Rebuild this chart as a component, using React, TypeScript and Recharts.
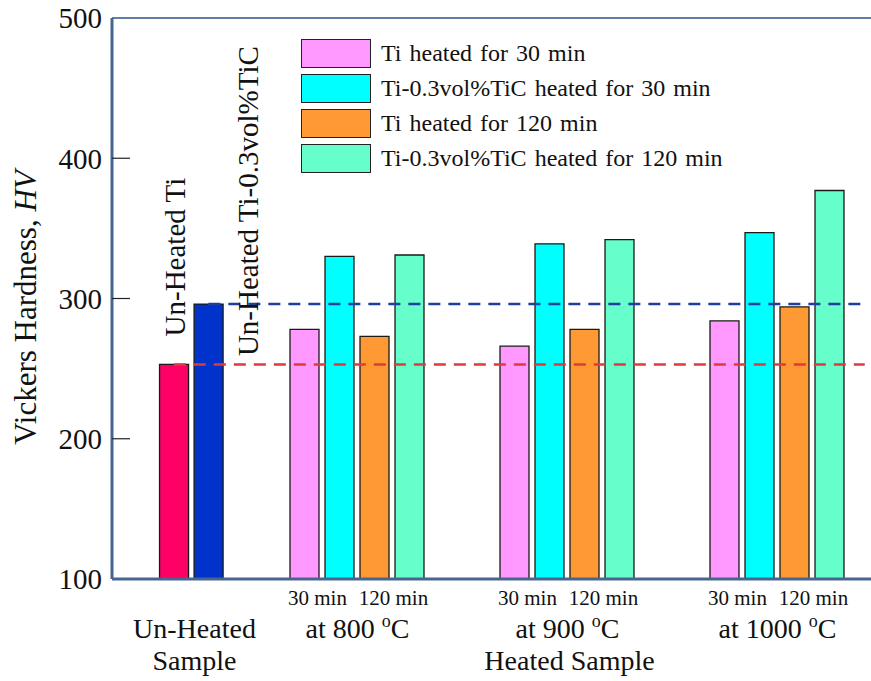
import {
  ComposedChart,
  Bar,
  Cell,
  XAxis,
  YAxis,
  Label,
  LabelList,
  Legend,
  ReferenceLine,
} from 'recharts';

const temps = [800, 900, 1000];
const ti30 = [278, 266, 284];
const tic30 = [330, 339, 347];
const ti120 = [273, 278, 294];
const tic120 = [331, 342, 377];
const unheated = [253, 296]; // Ti, Ti-0.3vol%TiC
const unheatedNotes = ['Un-Heated Ti', 'Un-Heated Ti-0.3vol%TiC'];
const yTicks = [100, 200, 300, 400, 500];
const legendLabels = [
  'Ti heated for 30 min',
  'Ti-0.3vol%TiC heated for 30 min',
  'Ti heated for 120 min',
  'Ti-0.3vol%TiC heated for 120 min',
];

const FONT = '"Liberation Serif", "Times New Roman", serif';
const AXIS = '#46668f';

const colors: Record<string, string> = {
  unTi: '#ff0066',
  unTiC: '#0033cc',
  ti30: '#ff99ff',
  tic30: '#00ffff',
  ti120: '#ff9933',
  tic120: '#66ffcc',
  gap: 'none',
};
const legendColors = [colors.ti30, colors.tic30, colors.ti120, colors.tic120];

interface Row {
  cat: string;
  role: string;
  temp?: number;
  hv: number | null; // heated samples
  un: number | null; // un-heated samples
  note?: string;
}

const rows: Row[] = [];
let g = 0;
const gap = () => rows.push({ cat: `gap${g++}`, role: 'gap', hv: null, un: null });
gap();
rows.push({ cat: 'unTi', role: 'unTi', hv: null, un: unheated[0], note: unheatedNotes[0] });
rows.push({ cat: 'unTiC', role: 'unTiC', hv: null, un: unheated[1], note: unheatedNotes[1] });
gap();
gap();
temps.forEach((t, i) => {
  rows.push({ cat: `${t}-ti30`, role: 'ti30', temp: t, hv: ti30[i], un: null });
  rows.push({ cat: `${t}-tic30`, role: 'tic30', temp: t, hv: tic30[i], un: null });
  rows.push({ cat: `${t}-ti120`, role: 'ti120', temp: t, hv: ti120[i], un: null });
  rows.push({ cat: `${t}-tic120`, role: 'tic120', temp: t, hv: tic120[i], un: null });
  gap();
  if (i < temps.length - 1) gap();
});
const lastCat = rows[rows.length - 1].cat;

const txt = (size: number) => ({
  fontSize: size,
  fill: '#111',
  textAnchor: 'middle' as const,
  style: { fontFamily: FONT },
});

const XTick = ({ x, y, payload }: any) => {
  const row = rows.find((r) => r.cat === payload.value);
  if (!row) return null;
  if (row.role === 'ti30') return <text x={x + 13} y={y + 26} {...txt(21)}>30 min</text>;
  if (row.role === 'ti120') return <text x={x + 19} y={y + 26} {...txt(21)}>120 min</text>;
  if (row.role === 'tic30') {
    return (
      <g>
        <text x={x + 18} y={y + 59} {...txt(28)}>
          at {row.temp}{' '}
          <tspan fontSize={18} dy={-11}>o</tspan>
          <tspan dy={11}>C</tspan>
        </text>
        {row.temp === 900 && (
          <text x={x + 20} y={y + 91} {...txt(28)}>Heated Sample</text>
        )}
      </g>
    );
  }
  if (row.role === 'unTiC') {
    return (
      <g>
        <text x={x - 5} y={y + 59} {...txt(28)}>Un-Heated</text>
        <text x={x - 5} y={y + 91} {...txt(28)}>Sample</text>
      </g>
    );
  }
  return null;
};

const LeftTick = ({ x, y, payload }: any) => (
  <g>
    <text x={x} y={y} dy="0.36em" {...txt(29)} textAnchor="end">
      {payload.value}
    </text>
    {payload.value > 100 && payload.value < 500 && (
      <line x1={x + 10} x2={x + 28} y1={y} y2={y} stroke="#222" strokeWidth={1.2} />
    )}
  </g>
);

const RightTick = ({ x, y, payload }: any) =>
  payload.value > 100 && payload.value < 500 ? (
    <line x1={x - 18} x2={x} y1={y} y2={y} stroke="#222" strokeWidth={1.2} />
  ) : null;

const renderNote = (props: any) => {
  const { x, y, width, value } = props;
  if (!value) return null;
  const first = value === unheatedNotes[0];
  const tx = x + width / 2 + (first ? 11 : 49);
  const ty = y + (first ? -28 : 52);
  return (
    <text
      x={tx}
      y={ty}
      transform={`rotate(-90, ${tx}, ${ty})`}
      {...txt(29)}
      textAnchor="start"
    >
      {value}
    </text>
  );
};

const renderYLabel = ({ viewBox }: any) => {
  const tx = 36;
  const ty = viewBox.y + viewBox.height / 2 + 9;
  return (
    <text x={tx} y={ty} transform={`rotate(-90, ${tx}, ${ty})`} {...txt(31)}>
      Vickers Hardness, <tspan fontStyle="italic">HV</tspan>
    </text>
  );
};

const LegendBox = () => (
  <div style={{ fontFamily: FONT, fontSize: 24, color: '#111' }}>
    {legendLabels.map((label, i) => (
      <div key={label} style={{ display: 'flex', alignItems: 'center', height: 35 }}>
        <div
          style={{
            width: 68,
            height: 27,
            background: legendColors[i],
            border: '1.5px solid #222',
            marginRight: 10,
          }}
        />
        <span style={{ wordSpacing: 2, whiteSpace: 'nowrap' }}>{label}</span>
      </div>
    ))}
  </div>
);

export default function App() {
  return (
    <div
      style={{
        position: 'fixed',
        left: 0,
        top: 0,
        width: 871,
        height: 681,
        overflow: 'hidden',
        background: '#fff',
      }}
    >
      <ComposedChart
        width={890}
        height={681}
        data={rows}
        margin={{ top: 18, right: 7, bottom: 0, left: 0 }}
      >
        <XAxis
          xAxisId="main"
          dataKey="cat"
          height={102}
          interval={0}
          tickLine={false}
          tickSize={0}
          tickMargin={0}
          axisLine={{ stroke: AXIS, strokeWidth: 3 }}
          tick={<XTick />}
        />
        <XAxis xAxisId="un" dataKey="cat" hide padding={{ left: 10, right: 0 }} />
        <YAxis
          yAxisId="left"
          width={112}
          domain={[100, 500]}
          ticks={yTicks}
          allowDataOverflow
          tickLine={false}
          tickSize={0}
          tickMargin={10}
          axisLine={{ stroke: AXIS, strokeWidth: 3 }}
          tick={<LeftTick />}
        >
          <Label content={renderYLabel} />
        </YAxis>
        <YAxis
          yAxisId="right"
          orientation="right"
          width={1}
          domain={[100, 500]}
          ticks={yTicks}
          tickLine={false}
          tickSize={0}
          tickMargin={0}
          axisLine={{ stroke: AXIS, strokeWidth: 3 }}
          tick={<RightTick />}
        />
        <ReferenceLine xAxisId="main" yAxisId="left" y={500} stroke="#5f7fa6" strokeWidth={2} />
        <Bar
          xAxisId="main"
          yAxisId="left"
          dataKey="hv"
          barSize={29}
          stroke="#1a1a1a"
          strokeWidth={1.3}
          isAnimationActive={false}
        >
          {rows.map((r) => (
            <Cell key={r.cat} fill={colors[r.role]} />
          ))}
        </Bar>
        <Bar
          xAxisId="un"
          yAxisId="left"
          dataKey="un"
          barSize={29}
          stroke="#1a1a1a"
          strokeWidth={1.3}
          isAnimationActive={false}
        >
          {rows.map((r) => (
            <Cell key={r.cat} fill={colors[r.role]} />
          ))}
          <LabelList dataKey="note" content={renderNote} />
        </Bar>
        <ReferenceLine
          xAxisId="un"
          yAxisId="left"
          segment={[
            { x: 'unTi', y: unheated[0] },
            { x: lastCat, y: unheated[0] },
          ]}
          stroke="#e03a3a"
          strokeWidth={2.5}
          strokeDasharray="12 8"
        />
        <ReferenceLine
          xAxisId="un"
          yAxisId="left"
          segment={[
            { x: 'unTiC', y: unheated[1] },
            { x: lastCat, y: unheated[1] },
          ]}
          stroke="#1f3fa0"
          strokeWidth={2.5}
          strokeDasharray="12 8"
        />
        <Legend
          layout="horizontal"
          verticalAlign="middle"
          align="center"
          content={<LegendBox />}
          wrapperStyle={{ top: 36, left: 301, width: 460, height: 140 }}
        />
      </ComposedChart>
    </div>
  );
}
